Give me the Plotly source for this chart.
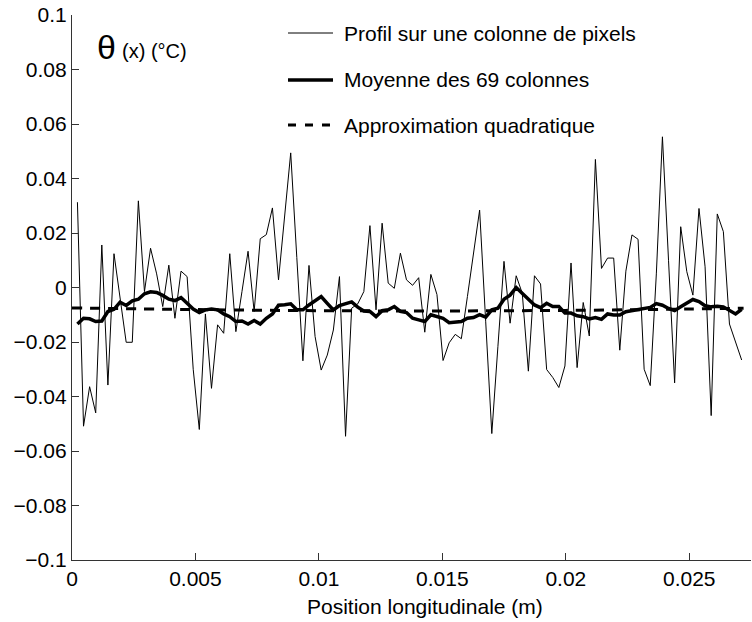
import plotly.graph_objects as go
import numpy as np

# profil brut (une colonne de pixels) et moyenne des 69 colonnes, en °C
profil = [0.0313, -0.0509, -0.0364, -0.046, 0.0156, -0.0358, 0.0124, -0.003, -0.0201, -0.0201,
          0.0318, -0.0015, 0.0144, 0.005, -0.007, 0.0082, -0.0113, 0.006, 0.004, -0.030,
          -0.0521, -0.0097, -0.037, -0.0137, -0.0168, 0.0124, -0.0162, -0.0015, 0.0133, -0.0088,
          0.0179, 0.0194, 0.0292, 0.0028, 0.025, 0.0494, 0.011, -0.0269, 0.0081, -0.018,
          -0.0303, -0.0248, -0.0156, 0.004, -0.0546, -0.0076, -0.006, -0.0015, 0.0227, -0.0082,
          0.0236, 0.0016, -0.0003, 0.0126, 0.0028, 0.0008, 0.0036, -0.0164, 0.0048, -0.0026,
          -0.0268, -0.0203, -0.0172, -0.0188, -0.0033, 0.0126, 0.0284, -0.0126, -0.0536, -0.0217,
          0.0096, -0.0131, 0.0043, -0.0021, -0.0307, 0.0043, 0.0013, -0.0301, -0.033, -0.0367,
          -0.0288, 0.009, -0.0294, -0.0055, -0.0178, 0.047, 0.007, 0.0108, 0.0108, -0.023,
          0.006, 0.0193, 0.0177, -0.030, -0.036, 0.005, 0.0553, 0.010, -0.035, 0.0223,
          0.0058, -0.0028, 0.029, 0.0076, -0.047, 0.027, 0.0205, -0.0134, -0.0204, -0.0266]

moyenne = [-0.0134, -0.0113, -0.0115, -0.0125, -0.0123, -0.0088, -0.008, -0.0054, -0.0066, -0.0049,
           -0.0043, -0.0023, -0.0016, -0.0018, -0.0029, -0.0043, -0.0048, -0.0037, -0.0058, -0.0079,
           -0.0092, -0.0082, -0.0079, -0.0082, -0.0097, -0.0107, -0.0125, -0.0123, -0.0134, -0.0121,
           -0.0134, -0.0113, -0.0097, -0.0065, -0.0063, -0.006, -0.0082, -0.0082, -0.0064, -0.0049,
           -0.0033, -0.0058, -0.0082, -0.0066, -0.006, -0.0053, -0.0072, -0.0086, -0.0088, -0.0107,
           -0.0085, -0.0082, -0.007, -0.0088, -0.0092, -0.0113, -0.0119, -0.0125, -0.01, -0.0107,
           -0.0113, -0.0129, -0.0126, -0.0125, -0.0113, -0.011, -0.01, -0.0109, -0.0082, -0.0076,
           -0.0043, -0.0028, 0.0, -0.0021, -0.0042, -0.0064, -0.0074, -0.0058, -0.007, -0.007,
           -0.0094, -0.0094, -0.0104, -0.0107, -0.0115, -0.011, -0.0117, -0.0097, -0.0101, -0.0101,
           -0.0089, -0.0085, -0.008, -0.0077, -0.0073, -0.0059, -0.0065, -0.0077, -0.0085, -0.0071,
           -0.0056, -0.0044, -0.0052, -0.0067, -0.0071, -0.0069, -0.0071, -0.0085, -0.0097, -0.008]

# approximation quadratique
x_quad = [0.0, 0.005, 0.01, 0.015, 0.02, 0.025, 0.0272]
y_quad = [-0.0075, -0.0081, -0.0085, -0.0086, -0.0084, -0.0079, -0.0076]

# position des pixels (pas d'environ 0.247 mm)
x_pix = 0.00022 + 0.0002468 * np.arange(len(profil))

x_ticks = [0, 0.005, 0.01, 0.015, 0.02, 0.025]
x_labels = ['0', '0.005', '0.01', '0.015', '0.02', '0.025']
y_ticks = [-0.1, -0.08, -0.06, -0.04, -0.02, 0, 0.02, 0.04, 0.06, 0.08, 0.1]
y_labels = ['\u22120.1', '\u22120.08', '\u22120.06', '\u22120.04', '\u22120.02', '0',
            '0.02', '0.04', '0.06', '0.08', '0.1']

legende = ['Profil sur une colonne de pixels', 'Moyenne des 69 colonnes', 'Approximation quadratique']

W, H = 752, 622
L, R, T, B = 72, 1, 15, 62
font = 'Liberation Sans, Arial, sans-serif'
fs = 21


def px(X):
    return (X - L) / (W - L - R)


def py(Y):
    return (H - B - Y) / (H - T - B)


fig = go.Figure()
fig.add_trace(go.Scatter(x=x_pix, y=profil, mode='lines', line=dict(color='black', width=1)))
fig.add_trace(go.Scatter(x=x_pix, y=moyenne, mode='lines', line=dict(color='black', width=3.5)))
fig.add_trace(go.Scatter(x=x_quad, y=y_quad, mode='lines', line=dict(color='black', width=3, dash='10px,8px', shape='spline')))

# légende dessinée à la main (pas de cadre, comme dans la figure d'origine)
styles = [dict(width=1), dict(width=3.5), dict(width=3, dash='8px,9px')]
rows = [33, 80, 125]
for txt, st, yy in zip(legende, styles, rows):
    fig.add_shape(type='line', xref='paper', yref='paper', x0=px(288), x1=px(333), y0=py(yy), y1=py(yy),
                  line=dict(color='black', **st))
    fig.add_annotation(xref='paper', yref='paper', x=px(342), y=py(yy), text=txt, showarrow=False,
                       xanchor='left', yanchor='middle', font=dict(size=fs, color='black', family=font))

fig.add_annotation(xref='paper', yref='paper', x=px(95), y=py(47), text='θ', showarrow=False,
                   xanchor='left', yanchor='middle', font=dict(size=34, color='black', family=font))
fig.add_annotation(xref='paper', yref='paper', x=px(120), y=py(51), text='(x) (°C)', showarrow=False,
                   xanchor='left', yanchor='middle', font=dict(size=20, color='black', family=font))
fig.add_annotation(xref='paper', yref='paper', x=px(425), y=py(606), text='Position longitudinale (m)',
                   showarrow=False, xanchor='center', yanchor='middle',
                   font=dict(size=fs, color='black', family=font))

fig.update_layout(width=W, height=H, margin=dict(l=L, r=R, t=T, b=B, autoexpand=False),
                  plot_bgcolor='white', paper_bgcolor='white', showlegend=False,
                  font=dict(family=font, size=fs, color='black'))
fig.update_xaxes(range=[0, 0.0275], tickvals=x_ticks, ticktext=x_labels, ticks='inside', ticklen=7,
                 tickcolor='#333', showline=True, linecolor='#333', linewidth=1.2, showgrid=False,
                 zeroline=False, automargin=False, tickfont=dict(size=fs, family=font))
fig.update_yaxes(range=[-0.1, 0.1], tickvals=y_ticks, ticktext=y_labels, ticks='inside', ticklen=7,
                 tickcolor='#333', showline=True, linecolor='#333', linewidth=1.2, showgrid=False,
                 zeroline=False, automargin=False, tickfont=dict(size=fs, family=font))

# la page html a une marge de 8 px par défaut : on la supprime
fig.write_html("out.html", config={'displayModeBar': False},
               post_script="document.body.style.margin='0px';")
